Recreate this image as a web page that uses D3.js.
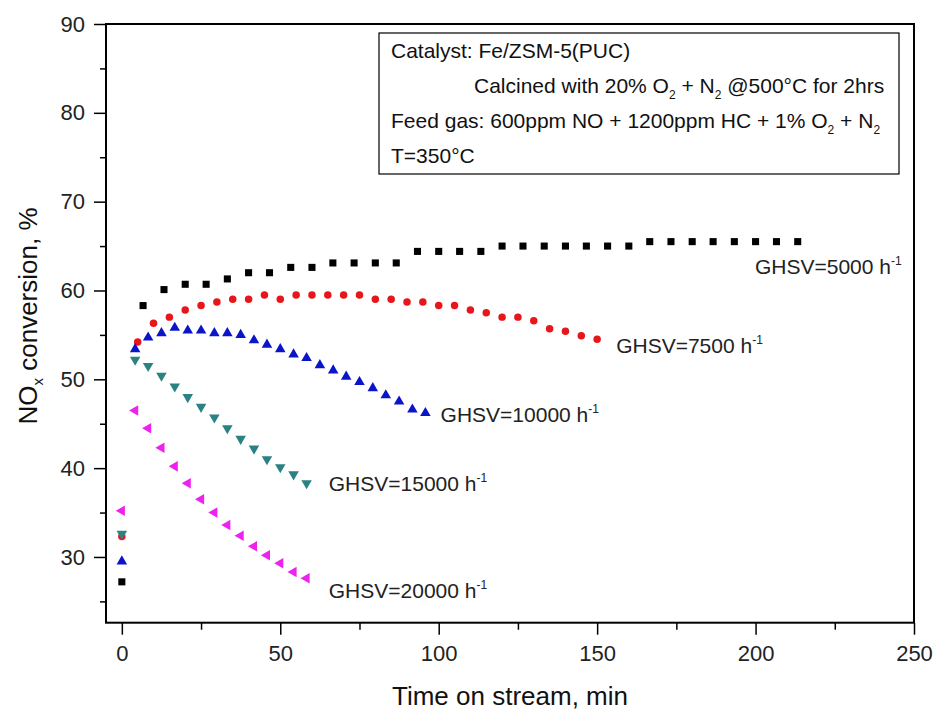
<!DOCTYPE html>
<html>
<head>
<meta charset="utf-8">
<script src="https://cdn.jsdelivr.net/npm/d3@7"></script>
<style>
  html, body { margin: 0; padding: 0; background: #fff; }
  svg { display: block; font-family: "Liberation Sans", Arial, sans-serif; }
</style>
</head>
<body>
<svg id="chart" width="934" height="713"></svg>
<script>
// ---------- data ----------
const t5000 = [0, 6.7, 13.3, 20, 26.6, 33.3, 40, 46.6, 53.3, 60, 66.6, 73.3, 80, 86.6, 93.3, 100, 106.6, 113.3, 120, 126.6, 133.3, 140, 146.6, 153.3, 160, 166.6, 173.3, 180, 186.6, 193.3, 200, 206.6, 213.3];
const v5000 = [27.2, 58.3, 60.1, 60.7, 60.7, 61.3, 62.0, 62.0, 62.6, 62.6, 63.1, 63.1, 63.1, 63.1, 64.4, 64.4, 64.4, 64.4, 65.0, 65.0, 65.0, 65.0, 65.0, 65.0, 65.0, 65.5, 65.5, 65.5, 65.5, 65.5, 65.5, 65.5, 65.5];

const t7500 = [0, 5, 10, 15, 20, 25, 30, 35, 40, 45, 50, 55, 60, 65, 70, 75, 80, 85, 90, 95, 100, 105, 110, 115, 120, 125, 130, 135, 140, 145, 150];
const v7500 = [32.3, 54.2, 56.3, 57.0, 57.8, 58.3, 58.7, 59.0, 59.0, 59.5, 59.0, 59.5, 59.5, 59.5, 59.5, 59.5, 59.0, 59.0, 58.7, 58.7, 58.3, 58.3, 57.8, 57.5, 57.0, 57.0, 56.6, 55.7, 55.4, 54.9, 54.5];

const t10000 = [0, 4.2, 8.3, 12.5, 16.7, 20.8, 25, 29.2, 33.3, 37.5, 41.7, 45.8, 50, 54.2, 58.3, 62.5, 66.7, 70.8, 75, 79.2, 83.3, 87.5, 91.7, 95.8];
const v10000 = [29.5, 53.4, 54.7, 55.2, 55.8, 55.5, 55.5, 55.2, 55.2, 55.0, 54.4, 53.9, 53.4, 52.8, 52.4, 51.6, 51.0, 50.3, 49.7, 49.0, 48.2, 47.5, 46.6, 46.2];

const t15000 = [0, 4.2, 8.3, 12.5, 16.7, 20.8, 25, 29.2, 33.3, 37.5, 41.7, 45.8, 50, 54.2, 58.3];
const v15000 = [32.6, 52.2, 51.5, 50.4, 49.2, 48.0, 46.9, 45.7, 44.5, 43.3, 42.2, 41.0, 40.1, 39.3, 38.3];

const t20000 = [0, 4.2, 8.3, 12.5, 16.7, 20.8, 25, 29.2, 33.3, 37.5, 41.7, 45.8, 50, 54.2, 58.3];
const v20000 = [35.2, 46.5, 44.5, 42.3, 40.2, 38.3, 36.5, 35.0, 33.6, 32.4, 31.2, 30.2, 29.3, 28.3, 27.6];

const seriesNames = ["GHSV=5000", "GHSV=7500", "GHSV=10000", "GHSV=15000", "GHSV=20000"];
const xTicks = [0, 50, 100, 150, 200, 250];
const xMinorTicks = [25, 75, 125, 175, 225];
const yTicks = [30, 40, 50, 60, 70, 80, 90];
const yMinorTicks = [25, 35, 45, 55, 65, 75, 85];

// label anchors in data units (time, conversion)
const labelAnchorT = [199.8, 156.0, 100.6, 65.3, 65.3];
const labelAnchorV = [61.9, 53.0, 45.2, 37.4, 25.4];

// ---------- layout ----------
const svg = d3.select("#chart");
const plotL = 106, plotR = 914, plotT = 24, plotB = 622.7;
const x = d3.scaleLinear().domain([-5, 250]).range([plotL, plotR]);
const y = d3.scaleLinear().domain([22.6, 90]).range([plotB, plotT]);
const FONT = '"Liberation Sans", Arial, sans-serif';

const series = [
  { t: t5000, v: v5000, color: "#000000", shape: "square" },
  { t: t7500, v: v7500, color: "#e8161b", shape: "circle" },
  { t: t10000, v: v10000, color: "#0a14c8", shape: "up" },
  { t: t15000, v: v15000, color: "#2a8282", shape: "down" },
  { t: t20000, v: v20000, color: "#ee22ee", shape: "left" }
];

// ---------- axes ----------
const xAxis = d3.axisBottom(x).tickValues(xTicks).tickSize(12).tickPadding(11).tickFormat(d3.format("d"));
const xMinor = d3.axisBottom(x).tickValues(xMinorTicks).tickSize(7).tickFormat("");
const yAxis = d3.axisLeft(y).tickValues(yTicks).tickSize(12).tickPadding(9).tickFormat(d3.format("d"));
const yMinor = d3.axisLeft(y).tickValues(yMinorTicks).tickSize(6).tickFormat("");

function styleAxis(g) {
  g.select(".domain").remove();
  g.selectAll(".tick line").attr("stroke", "#000").attr("stroke-width", 1.5);
  g.selectAll(".tick text").attr("fill", "#222").style("font-family", FONT).style("font-size", "22px");
}

svg.append("g").attr("transform", `translate(0,${plotB})`).call(xAxis).call(styleAxis);
svg.append("g").attr("transform", `translate(0,${plotB})`).call(xMinor).call(styleAxis);
svg.append("g").attr("transform", `translate(${plotL},0)`).call(yAxis).call(styleAxis);
svg.append("g").attr("transform", `translate(${plotL},0)`).call(yMinor).call(styleAxis);

// frame
svg.append("rect")
  .attr("x", plotL).attr("y", plotT)
  .attr("width", plotR - plotL).attr("height", plotB - plotT)
  .attr("fill", "none").attr("stroke", "#000").attr("stroke-width", 2);

// ---------- markers ----------
const symGen = {
  square: d3.symbol().type(d3.symbolSquare).size(50),
  circle: d3.symbol().type(d3.symbolCircle).size(44),
  up: d3.symbol().type(d3.symbolTriangle).size(48),
  down: d3.symbol().type(d3.symbolTriangle).size(48),
  left: d3.symbol().type(d3.symbolTriangle).size(48)
};
const rot = { square: 0, circle: 0, up: 0, down: 180, left: -90 };

series.forEach(s => {
  const pts = s.t.map((t, i) => ({ t: t, v: s.v[i] }));
  svg.append("g").selectAll("path")
    .data(pts)
    .join("path")
    .attr("d", symGen[s.shape]())
    .attr("transform", d => `translate(${x(d.t)},${y(d.v)}) rotate(${rot[s.shape]})`)
    .attr("fill", s.color);
});

// ---------- series labels ----------
seriesNames.forEach((name, i) => {
  const txt = svg.append("text")
    .attr("x", x(labelAnchorT[i]))
    .attr("y", y(labelAnchorV[i]))
    .style("font-family", FONT).style("font-size", "21px").attr("fill", "#222");
  txt.append("tspan").text(name + " h");
  txt.append("tspan").attr("dy", -9).style("font-size", "12px").text("-1");
});

// ---------- info box ----------
svg.append("rect")
  .attr("x", 379).attr("y", 33).attr("width", 520).attr("height", 141)
  .attr("fill", "#fff").attr("stroke", "#000").attr("stroke-width", 1.2);

function richText(xp, yp, parts) {
  const t = svg.append("text").attr("x", xp).attr("y", yp)
    .style("font-family", FONT).style("font-size", "21px").attr("fill", "#111");
  let shift = 0;
  parts.forEach(p => {
    const sp = t.append("tspan").text(p[0]);
    if (p[1] === "sub") { sp.attr("dy", 6 - shift).style("font-size", "12px"); shift = 6; }
    else { if (shift) sp.attr("dy", -shift); shift = 0; }
  });
}
richText(391, 58, [["Catalyst: Fe/ZSM-5(PUC)"]]);
richText(474, 93, [["Calcined with 20% O"], ["2", "sub"], [" + N"], ["2", "sub"], [" @500°C for 2hrs"]]);
richText(391, 128, [["Feed gas: 600ppm NO + 1200ppm HC + 1% O"], ["2", "sub"], [" + N"], ["2", "sub"]]);
richText(391, 163, [["T=350°C"]]);

// ---------- axis titles ----------
svg.append("text")
  .attr("x", (plotL + plotR) / 2).attr("y", 705)
  .attr("text-anchor", "middle")
  .style("font-family", FONT).style("font-size", "26px").attr("fill", "#111")
  .text("Time on stream, min");

const yt = svg.append("text")
  .attr("transform", "translate(37,316) rotate(-90)")
  .attr("text-anchor", "middle")
  .style("font-family", FONT).style("font-size", "26px").attr("fill", "#111");
yt.append("tspan").text("NO");
yt.append("tspan").attr("dy", 6).style("font-size", "15px").text("x");
yt.append("tspan").attr("dy", -6).text(" conversion, %");
</script>
</body>
</html>
